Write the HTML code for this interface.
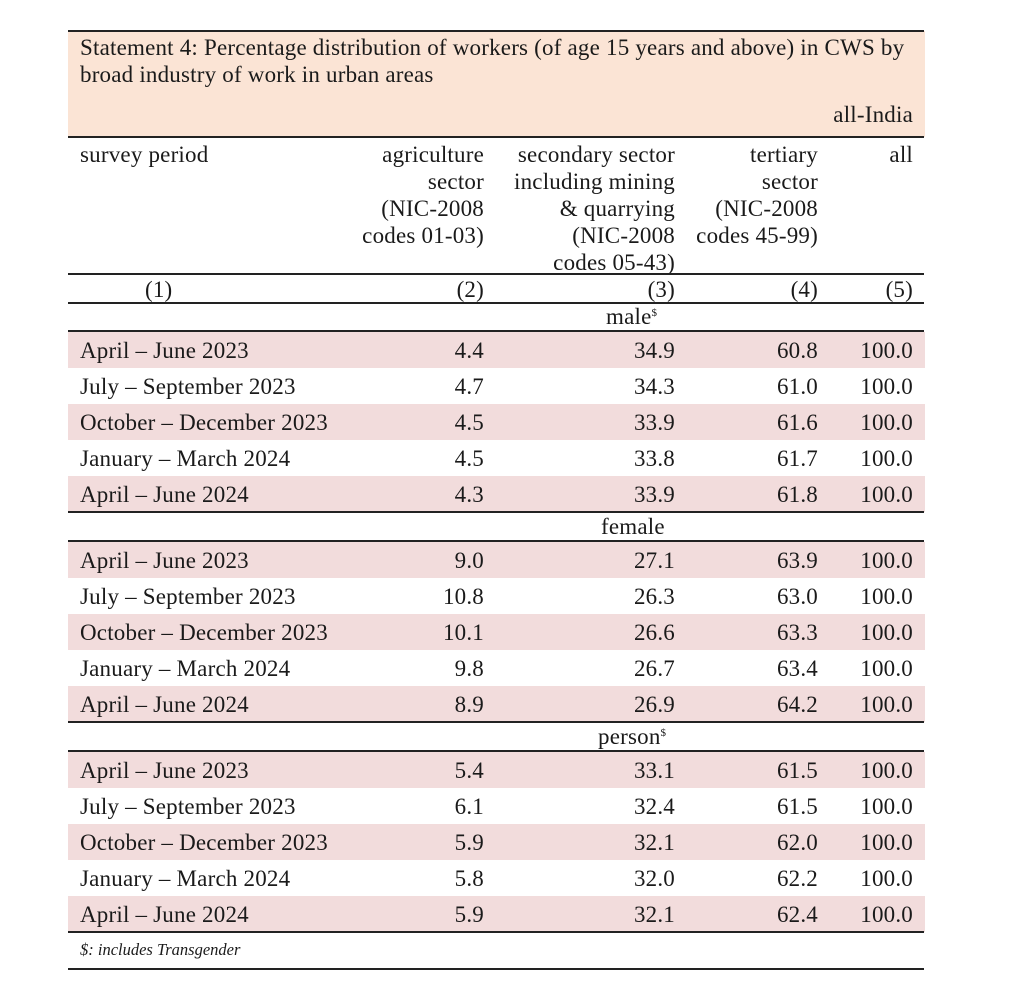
<!DOCTYPE html>
<html><head><meta charset="utf-8"><style>
body{margin:0;width:1024px;height:984px;background:#fff;position:relative;font-family:"Liberation Serif",serif;font-size:23px;letter-spacing:0.2px;color:#1a1a1a;overflow:hidden}
.a{position:absolute;white-space:nowrap}
.ln{position:absolute;left:68px;width:856px;height:2px;background:#222}
.b{position:absolute;left:68px;width:857px;height:36px;background:#f2dcdc}
.r{position:absolute;height:36px;line-height:37px;white-space:nowrap}
.c1{left:80px}
.c2{right:540px;text-align:right}
.c3{right:349px;text-align:right}
.c4{right:206px;text-align:right}
.c5{right:111px;text-align:right}
.h{position:absolute;text-align:right;line-height:27px;white-space:nowrap}
sup{font-size:11px;vertical-align:8px;line-height:0}
</style></head><body>
<div style="position:absolute;left:68px;top:31px;width:857px;height:106px;background:#fbe4d5"></div>
<div class="ln" style="top:30px"></div>
<div class="a" style="left:80px;top:34px;line-height:27px">Statement 4: Percentage distribution of workers (of age 15 years and above) in CWS by<br>broad industry of work in urban areas</div>
<div class="a" style="right:111px;top:101px;line-height:27px">all-India</div>
<div class="ln" style="top:136px"></div>
<div class="a" style="left:80px;top:141px;line-height:27px">survey period</div>
<div class="h" style="right:540px;top:141px">agriculture<br>sector<br>(NIC-2008<br>codes 01-03)</div>
<div class="h" style="right:349px;top:141px">secondary sector<br>including mining<br>&amp; quarrying<br>(NIC-2008<br>codes 05-43)</div>
<div class="h" style="right:206px;top:141px">tertiary<br>sector<br>(NIC-2008<br>codes 45-99)</div>
<div class="h" style="right:111px;top:141px">all</div>
<div class="ln" style="top:273px"></div>
<div class="a" style="left:145px;top:276px;line-height:27px">(1)</div>
<div class="h" style="right:540px;top:276px">(2)</div>
<div class="h" style="right:349px;top:276px">(3)</div>
<div class="h" style="right:206px;top:276px">(4)</div>
<div class="h" style="right:111px;top:276px">(5)</div>
<div class="ln" style="top:302px"></div>
<div class="a" style="left:606px;top:303px;line-height:27px">male<sup>$</sup></div>
<div class="ln" style="top:330px"></div>

<div class="b" style="top:332px"></div><div class="b" style="top:404px"></div><div class="b" style="top:476px"></div>
<div class="ln" style="top:511px"></div>
<div class="a" style="left:601px;top:513px;line-height:27px">female</div>
<div class="ln" style="top:540px"></div>
<div class="b" style="top:542px"></div><div class="b" style="top:614px"></div><div class="b" style="top:686px"></div>
<div class="ln" style="top:721px"></div>
<div class="a" style="left:598px;top:723px;line-height:27px">person<sup>$</sup></div>
<div class="ln" style="top:750px"></div>
<div class="b" style="top:752px"></div><div class="b" style="top:824px"></div><div class="b" style="top:896px"></div>
<div class="ln" style="top:931px"></div>
<div class="a" style="left:80px;top:940px;font-size:16.5px;letter-spacing:0;font-style:italic">$: includes Transgender</div>
<div class="ln" style="top:968px"></div>

<div class="r c1" style="top:332px">April – June 2023</div><div class="r c2" style="top:332px">4.4</div><div class="r c3" style="top:332px">34.9</div><div class="r c4" style="top:332px">60.8</div><div class="r c5" style="top:332px">100.0</div>
<div class="r c1" style="top:368px">July – September 2023</div><div class="r c2" style="top:368px">4.7</div><div class="r c3" style="top:368px">34.3</div><div class="r c4" style="top:368px">61.0</div><div class="r c5" style="top:368px">100.0</div>
<div class="r c1" style="top:404px">October – December 2023</div><div class="r c2" style="top:404px">4.5</div><div class="r c3" style="top:404px">33.9</div><div class="r c4" style="top:404px">61.6</div><div class="r c5" style="top:404px">100.0</div>
<div class="r c1" style="top:440px">January – March 2024</div><div class="r c2" style="top:440px">4.5</div><div class="r c3" style="top:440px">33.8</div><div class="r c4" style="top:440px">61.7</div><div class="r c5" style="top:440px">100.0</div>
<div class="r c1" style="top:476px">April – June 2024</div><div class="r c2" style="top:476px">4.3</div><div class="r c3" style="top:476px">33.9</div><div class="r c4" style="top:476px">61.8</div><div class="r c5" style="top:476px">100.0</div>

<div class="r c1" style="top:542px">April – June 2023</div><div class="r c2" style="top:542px">9.0</div><div class="r c3" style="top:542px">27.1</div><div class="r c4" style="top:542px">63.9</div><div class="r c5" style="top:542px">100.0</div>
<div class="r c1" style="top:578px">July – September 2023</div><div class="r c2" style="top:578px">10.8</div><div class="r c3" style="top:578px">26.3</div><div class="r c4" style="top:578px">63.0</div><div class="r c5" style="top:578px">100.0</div>
<div class="r c1" style="top:614px">October – December 2023</div><div class="r c2" style="top:614px">10.1</div><div class="r c3" style="top:614px">26.6</div><div class="r c4" style="top:614px">63.3</div><div class="r c5" style="top:614px">100.0</div>
<div class="r c1" style="top:650px">January – March 2024</div><div class="r c2" style="top:650px">9.8</div><div class="r c3" style="top:650px">26.7</div><div class="r c4" style="top:650px">63.4</div><div class="r c5" style="top:650px">100.0</div>
<div class="r c1" style="top:686px">April – June 2024</div><div class="r c2" style="top:686px">8.9</div><div class="r c3" style="top:686px">26.9</div><div class="r c4" style="top:686px">64.2</div><div class="r c5" style="top:686px">100.0</div>

<div class="r c1" style="top:752px">April – June 2023</div><div class="r c2" style="top:752px">5.4</div><div class="r c3" style="top:752px">33.1</div><div class="r c4" style="top:752px">61.5</div><div class="r c5" style="top:752px">100.0</div>
<div class="r c1" style="top:788px">July – September 2023</div><div class="r c2" style="top:788px">6.1</div><div class="r c3" style="top:788px">32.4</div><div class="r c4" style="top:788px">61.5</div><div class="r c5" style="top:788px">100.0</div>
<div class="r c1" style="top:824px">October – December 2023</div><div class="r c2" style="top:824px">5.9</div><div class="r c3" style="top:824px">32.1</div><div class="r c4" style="top:824px">62.0</div><div class="r c5" style="top:824px">100.0</div>
<div class="r c1" style="top:860px">January – March 2024</div><div class="r c2" style="top:860px">5.8</div><div class="r c3" style="top:860px">32.0</div><div class="r c4" style="top:860px">62.2</div><div class="r c5" style="top:860px">100.0</div>
<div class="r c1" style="top:896px">April – June 2024</div><div class="r c2" style="top:896px">5.9</div><div class="r c3" style="top:896px">32.1</div><div class="r c4" style="top:896px">62.4</div><div class="r c5" style="top:896px">100.0</div>
</body></html>
